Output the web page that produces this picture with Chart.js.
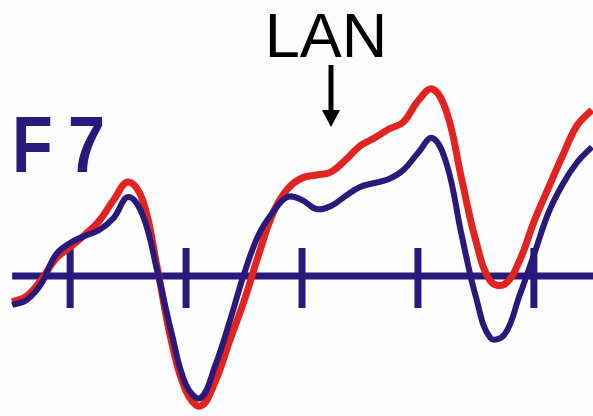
<!DOCTYPE html>
<html>
<head>
<meta charset="utf-8">
<script src="https://cdn.jsdelivr.net/npm/chart.js@4.4.1/dist/chart.umd.min.js"></script>
<style>
  body { margin: 0; background: #fdfdfd; }
  #wrap { width: 593px; height: 416px; position: relative; }
</style>
</head>
<body>
<div id="wrap"><canvas id="erp-chart"></canvas></div>
<script>
// time points (ms), sampled every 25 ms
let times = [];
for (let t = -100; t <= 900; t += 25) times.push(t);

// amplitudes (positive up)
let blueValues = [-1.45, -1.2, -0.4, 1.05, 1.65, 2.0, 2.3, 2.9, 3.95, 3.05,
  0.3, -2.85, -5.45, -6.1, -4.5, -2.3, 0.1, 2.05, 3.2, 3.95,
  3.8, 3.35, 3.5, 4.0, 4.45, 4.65, 4.85, 5.3, 6.15, 6.9,
  5.55, 2.1, -1.05, -3.1, -2.9, -1.0, 1.05, 3.15, 4.6, 5.7, 6.45];

let redValues = [-1.3, -1.0, -0.2, 0.85, 1.45, 2.05, 2.75, 3.8, 4.7, 3.8,
  0.45, -3.3, -5.75, -6.5, -5.3, -3.25, -1.25, 1.05, 3.15, 4.35,
  4.9, 5.05, 5.2, 5.8, 6.5, 6.9, 7.35, 7.7, 8.75, 9.35,
  8.15, 4.9, 1.75, -0.25, -0.4, 0.75, 2.7, 4.4, 6.05, 7.55, 8.3];

let tickTimes = [0, 200, 400, 600, 800];
let electrode = "F7";
let annotation = "LAN";
let annotationTime = 450;

let navy = "#29197a";
let red = "#e2231f";

// zero line + ticks under the waveforms, labels on top
let erpAxis = {
  id: "erpAxis",
  beforeDatasetsDraw(chart) {
    let {ctx, scales: {x, y}} = chart;
    let y0 = y.getPixelForValue(0);
    ctx.save();
    ctx.strokeStyle = navy;
    ctx.lineWidth = 7;
    ctx.beginPath();
    ctx.moveTo(x.getPixelForValue(-100), y0);
    ctx.lineTo(x.right, y0);
    ctx.stroke();
    tickTimes.forEach(t => {
      let px = x.getPixelForValue(t);
      ctx.beginPath();
      ctx.moveTo(px, y0 - 28);
      ctx.lineTo(px, y0 + 32);
      ctx.stroke();
    });
    ctx.restore();
  },
  afterDatasetsDraw(chart) {
    let {ctx, scales: {x}} = chart;
    ctx.save();
    // electrode label
    ctx.fillStyle = navy;
    ctx.textBaseline = "alphabetic";
    ctx.translate(12, 172);
    ctx.scale(0.9, 1.08);
    ctx.font = "bold 74px 'Liberation Sans'";
    ctx.letterSpacing = "17px";
    ctx.fillText(electrode, 0, 0);
    ctx.restore();

    ctx.save();
    let ax = x.getPixelForValue(annotationTime);
    ctx.fillStyle = "#000";
    ctx.font = "63px 'Liberation Sans'";
    ctx.textAlign = "center";
    ctx.fillText(annotation, ax - 5, 57);
    ctx.strokeStyle = "#000";
    ctx.lineWidth = 5;
    ctx.beginPath();
    ctx.moveTo(ax, 65);
    ctx.lineTo(ax, 112);
    ctx.stroke();
    ctx.beginPath();
    ctx.moveTo(ax - 9, 110);
    ctx.lineTo(ax + 9, 110);
    ctx.lineTo(ax, 127);
    ctx.closePath();
    ctx.fill();
    ctx.restore();
  }
};

new Chart("erp-chart", {
  type: "line",
  data: {
    datasets: [{
      label: "blue",
      data: times.map((t, i) => ({x: t, y: blueValues[i]})),
      borderColor: navy,
      borderWidth: 6,
      pointRadius: 0,
      tension: 0.4,
      fill: false
    }, {
      label: "red",
      data: times.map((t, i) => ({x: t, y: redValues[i]})),
      borderColor: red,
      borderWidth: 7,
      pointRadius: 0,
      tension: 0.4,
      fill: false
    }]
  },
  options: {
    animation: false,
    responsive: true,
    maintainAspectRatio: false,
    layout: { padding: 0 },
    plugins: {
      legend: { display: false },
      tooltip: { enabled: false },
      title: { display: false }
    },
    scales: {
      x: { type: "linear", min: -121, max: 902, display: false },
      y: { min: -7, max: 13.8, display: false }
    }
  },
  plugins: [erpAxis]
});
</script>
</body>
</html>
